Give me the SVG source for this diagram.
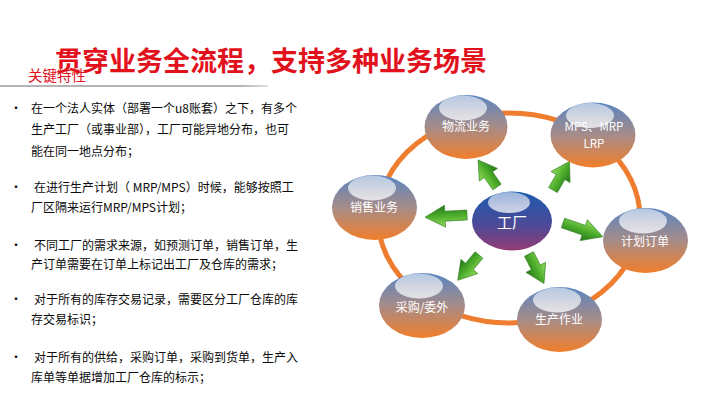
<svg xmlns="http://www.w3.org/2000/svg" width="720" height="405" viewBox="0 0 720 405">
<defs>
<linearGradient id="gNode" x1="0" y1="0" x2="0" y2="1">
<stop offset="0" stop-color="#5985c2"/>
<stop offset="0.5" stop-color="#a68c88"/>
<stop offset="1" stop-color="#f17e2b"/>
</linearGradient>
<linearGradient id="gCenter" x1="0" y1="0" x2="0" y2="1">
<stop offset="0" stop-color="#1d5bb0"/>
<stop offset="0.55" stop-color="#4a4a98"/>
<stop offset="1" stop-color="#923c74"/>
</linearGradient>
<linearGradient id="gHi" x1="0" y1="0" x2="0" y2="1">
<stop offset="0" stop-color="#ffffff" stop-opacity="0.55"/>
<stop offset="1" stop-color="#ffffff" stop-opacity="0.75"/>
</linearGradient>
<linearGradient id="gArr" x1="0" y1="0" x2="0" y2="1">
<stop offset="0" stop-color="#95dc5c"/>
<stop offset="0.5" stop-color="#4eae2c"/>
<stop offset="1" stop-color="#23761a"/>
</linearGradient>
<linearGradient id="gLine" x1="0" y1="0" x2="1" y2="0">
<stop offset="0" stop-color="#b4b4b4"/>
<stop offset="0.9" stop-color="#b4b4b4"/>
<stop offset="1" stop-color="#b4b4b4" stop-opacity="0.4"/>
</linearGradient>
<path id="arrS" d="M0,-5 L15,-5 L15,-11 L33,0 L15,11 L15,5 L0,5 Z"/>
<path id="arrL" d="M0,-5 L22,-5 L22,-11 L42,0 L22,11 L22,5 L0,5 Z"/>
</defs>
<style>
.title{font-family:"Noto Sans CJK SC","Noto Sans",sans-serif;font-size:27px;font-weight:700;fill:#e2121d}
.sub{font-family:"Noto Sans CJK SC","Noto Sans",sans-serif;font-size:14.5px;fill:#e2121d}
.body{font-family:"Noto Sans CJK SC","Noto Sans",sans-serif;font-size:12px;fill:#0a0a0a}
.lbl{font-family:"Noto Sans CJK SC","Noto Sans",sans-serif;font-size:12px;fill:#ffffff;text-anchor:middle}
.node{fill:url(#gNode)}
.hi{fill:url(#gHi)}
.arrow{fill:url(#gArr);stroke:#2b7a1b;stroke-width:0.6}
</style>
<rect width="720" height="405" fill="#ffffff"/>
<rect x="0" y="85" width="268" height="2" fill="url(#gLine)"/>
<text class="sub" x="28" y="81">关键特性</text>
<text class="title" x="55" y="71">贯穿业务全流程，支持多种业务场景</text>

<g id="bullets" class="body">
<text x="10" y="113">•</text>
<text x="31" y="113">在一个法人实体（部署一个u8账套）之下，有多个</text>
<text x="31" y="134">生产工厂（或事业部），工厂可能异地分布，也可</text>
<text x="31" y="156">能在同一地点分布；</text>
<text x="10" y="192">•</text>
<text x="34" y="192">在进行生产计划（ MRP/MPS）时候，能够按照工</text>
<text x="31" y="212">厂区隔来运行MRP/MPS计划；</text>
<text x="10" y="250">•</text>
<text x="34" y="250">不同工厂的需求来源，如预测订单，销售订单，生</text>
<text x="31" y="269">产订单需要在订单上标记出工厂及仓库的需求；</text>
<text x="10" y="304">•</text>
<text x="34" y="304">对于所有的库存交易记录，需要区分工厂仓库的库</text>
<text x="31" y="324">存交易标识；</text>
<text x="10" y="362">•</text>
<text x="34" y="362">对于所有的供给，采购订单，采购到货单，生产入</text>
<text x="31" y="382">库单等单据增加工厂仓库的标示；</text>
</g>

<g id="connectors">
<ellipse cx="509" cy="218" rx="131" ry="105" fill="none" stroke="#ee7d2f" stroke-width="5"/>
<use href="#arrS" class="arrow" transform="translate(497,187) rotate(-125)"/>
<use href="#arrS" class="arrow" transform="translate(553,190) rotate(-60)"/>
<use href="#arrL" class="arrow" transform="translate(467,215) rotate(177)"/>
<use href="#arrL" class="arrow" transform="translate(563,223) rotate(19)"/>
<use href="#arrS" class="arrow" transform="translate(529,254) rotate(63)"/>
<use href="#arrS" class="arrow" transform="translate(479,255) rotate(130)"/>
</g>

<g id="node-wuliu">
<ellipse class="node" cx="466" cy="127" rx="41.5" ry="32"/>
<ellipse class="hi" cx="463" cy="108" rx="24" ry="12.5"/>
<text class="lbl" x="466" y="131">物流业务</text>
</g>
<g id="node-mps">
<ellipse class="node" cx="593" cy="135" rx="42.5" ry="32.5"/>
<ellipse class="hi" cx="590" cy="115.5" rx="24" ry="12.5"/>
<text class="lbl" x="594" y="131" style="font-size:11.5px">MPS、MRP</text>
<text class="lbl" x="594" y="148" style="font-size:11.5px">LRP</text>
</g>
<g id="node-xiaoshou">
<ellipse class="node" cx="374.5" cy="207.5" rx="42.5" ry="32.5"/>
<ellipse class="hi" cx="372" cy="188" rx="24" ry="12.5"/>
<text class="lbl" x="374" y="212">销售业务</text>
</g>
<g id="node-gongchang">
<ellipse cx="512" cy="221" rx="40" ry="29.5" fill="url(#gCenter)"/>
<ellipse class="hi" cx="509" cy="202.5" rx="21" ry="10.5"/>
<text class="lbl" x="512" y="228" style="font-size:15px">工厂</text>
</g>
<g id="node-jihua">
<ellipse class="node" cx="645.5" cy="240.5" rx="42.5" ry="32.5"/>
<ellipse class="hi" cx="643" cy="221" rx="24" ry="12.5"/>
<text class="lbl" x="645" y="246">计划订单</text>
</g>
<g id="node-caigou">
<ellipse class="node" cx="422" cy="305.5" rx="43" ry="32.5"/>
<ellipse class="hi" cx="419" cy="286" rx="24" ry="12.5"/>
<text class="lbl" x="422" y="312">采购/委外</text>
</g>
<g id="node-shengchan">
<ellipse class="node" cx="559.5" cy="319.5" rx="42.5" ry="32.5"/>
<ellipse class="hi" cx="557" cy="300" rx="24" ry="12.5"/>
<text class="lbl" x="559" y="324">生产作业</text>
</g>
</svg>
